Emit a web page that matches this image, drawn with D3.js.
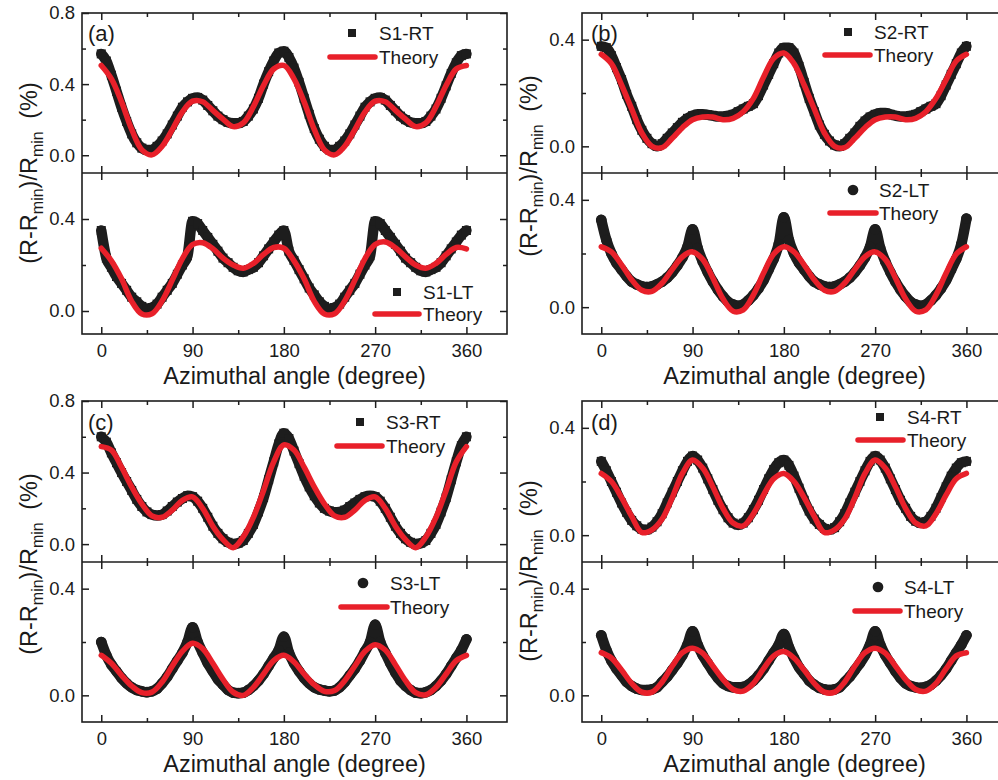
<!DOCTYPE html>
<html>
<head>
<meta charset="utf-8">
<script src="https://cdn.jsdelivr.net/npm/d3@7"></script>
<style>
  html, body { margin: 0; padding: 0; background: #fff; }
  svg { display: block; font-family: "Liberation Sans", Arial, Helvetica, sans-serif; }
</style>
</head>
<body>
<svg id="chart" width="998" height="780"></svg>
<script>
// ---------------- DATA ----------------
const angleTheory = [0,10,20,30,40,50,60,70,80,90,100,110,120,130,140,150,160,170,180,
  190,200,210,220,230,240,250,260,270,280,290,300,310,320,330,340,350,360];
const angleExp = [0,5,10,15,20,25,30,35,40,45,50,55,60,65,70,75,80,85,90,95,100,105,110,115,120,
  125,130,135,140,145,150,155,160,165,170,175,180,185,190,195,200,205,210,215,220,225,230,235,240,
  245,250,255,260,265,270,275,280,285,290,295,300,305,310,315,320,325,330,335,340,345,350,355,360];
const xTicksMajor = [0, 90, 180, 270, 360];
const xTicksMinor = [45, 135, 225, 315];

// Panel (a)
const s1RT = [0.57,0.53,0.45,0.36,0.27,0.19,0.12,0.07,0.04,0.03,0.03,0.05,0.08,0.12,0.17,0.22,0.27,0.30,0.32,0.325,
  0.31,0.28,0.25,0.22,0.20,0.185,0.18,0.18,0.19,0.22,0.26,0.32,0.40,0.47,0.53,0.575,0.585,
  0.55,0.49,0.41,0.32,0.23,0.15,0.09,0.05,0.03,0.03,0.05,0.08,0.12,0.17,0.22,0.27,0.30,0.32,0.325,
  0.31,0.28,0.25,0.22,0.20,0.185,0.18,0.18,0.19,0.22,0.26,0.32,0.39,0.46,0.52,0.56,0.57];
const s1RTTheory = [0.505,0.43,0.30,0.145,0.03,0.002,0.05,0.144,0.244,0.304,0.301,0.252,0.203,0.161,0.182,0.273,0.393,0.485,0.505,
  0.43,0.30,0.145,0.03,0.002,0.05,0.144,0.244,0.304,0.301,0.252,0.203,0.161,0.182,0.273,0.393,0.485,0.505];
const s1LT = [0.35,0.23,0.19,0.15,0.12,0.09,0.06,0.04,0.02,0.01,0.015,0.03,0.06,0.09,0.12,0.16,0.20,0.24,0.39,0.38,
  0.35,0.32,0.29,0.26,0.23,0.21,0.19,0.175,0.17,0.18,0.19,0.21,0.24,0.27,0.30,0.33,0.35,
  0.26,0.22,0.18,0.14,0.10,0.07,0.04,0.02,0.01,0.015,0.03,0.06,0.09,0.12,0.16,0.20,0.24,0.39,0.38,
  0.35,0.32,0.29,0.26,0.23,0.21,0.19,0.175,0.17,0.18,0.19,0.21,0.24,0.27,0.30,0.33,0.35];
const s1LTTheory = [0.273,0.218,0.14,0.042,-0.013,-0.012,0.044,0.134,0.228,0.289,0.297,0.271,0.23,0.20,0.186,0.207,0.246,0.276,0.273,
  0.218,0.14,0.042,-0.013,-0.012,0.044,0.134,0.228,0.289,0.30,0.275,0.235,0.20,0.186,0.207,0.246,0.276,0.27];

// Panel (b)
const s2RT = [0.375,0.37,0.34,0.295,0.25,0.195,0.15,0.10,0.06,0.03,0.01,0.0,0.01,0.03,0.05,0.07,0.09,0.105,0.115,0.12,
  0.12,0.118,0.115,0.112,0.112,0.115,0.12,0.13,0.14,0.15,0.16,0.19,0.23,0.27,0.31,0.35,0.37,
  0.37,0.35,0.30,0.24,0.18,0.13,0.08,0.045,0.02,0.005,0.0,0.01,0.03,0.05,0.075,0.095,0.11,0.12,0.125,
  0.125,0.12,0.115,0.112,0.112,0.115,0.12,0.13,0.14,0.15,0.16,0.19,0.23,0.27,0.31,0.35,0.375];
const s2RTTheory = [0.345,0.31,0.23,0.14,0.05,0.0,-0.005,0.03,0.07,0.10,0.11,0.11,0.10,0.105,0.13,0.18,0.26,0.33,0.35,
  0.31,0.23,0.14,0.05,0.0,-0.005,0.03,0.07,0.10,0.11,0.11,0.10,0.105,0.13,0.18,0.25,0.32,0.345];
const s2LT = [0.325,0.25,0.20,0.165,0.14,0.115,0.095,0.085,0.078,0.075,0.078,0.085,0.095,0.11,0.13,0.155,0.185,0.225,0.29,0.22,
  0.17,0.13,0.095,0.065,0.04,0.02,0.01,0.005,0.01,0.025,0.045,0.07,0.10,0.14,0.18,0.235,0.335,
  0.25,0.20,0.165,0.14,0.115,0.095,0.085,0.078,0.075,0.078,0.085,0.095,0.11,0.13,0.155,0.185,0.225,0.29,0.22,
  0.17,0.13,0.095,0.065,0.04,0.02,0.01,0.005,0.01,0.025,0.045,0.07,0.10,0.14,0.18,0.235,0.33];
const s2LTTheory = [0.225,0.206,0.158,0.102,0.063,0.059,0.09,0.141,0.188,0.206,0.178,0.109,0.031,-0.015,-0.01,0.046,0.127,0.198,0.225,
  0.206,0.158,0.102,0.063,0.059,0.09,0.141,0.188,0.206,0.178,0.109,0.031,-0.015,-0.01,0.046,0.127,0.198,0.225];

// Panel (c)
const s3RT = [0.60,0.57,0.51,0.455,0.40,0.35,0.30,0.25,0.21,0.18,0.165,0.16,0.165,0.185,0.21,0.235,0.255,0.27,0.265,0.24,
  0.20,0.15,0.10,0.06,0.03,0.01,0.0,0.005,0.02,0.06,0.11,0.18,0.26,0.36,0.46,0.56,0.62,
  0.59,0.52,0.45,0.38,0.32,0.27,0.23,0.20,0.185,0.178,0.18,0.19,0.21,0.23,0.25,0.265,0.27,0.265,0.24,
  0.20,0.15,0.10,0.06,0.03,0.01,0.0,0.005,0.02,0.06,0.11,0.18,0.26,0.36,0.46,0.55,0.60];
const s3RTTheory = [0.545,0.526,0.43,0.32,0.225,0.158,0.15,0.19,0.245,0.264,0.20,0.10,0.025,-0.02,0.04,0.15,0.30,0.46,0.555,
  0.526,0.43,0.32,0.225,0.158,0.15,0.19,0.245,0.264,0.20,0.10,0.025,-0.02,0.04,0.15,0.30,0.46,0.545];
const s3LT = [0.20,0.15,0.115,0.09,0.065,0.045,0.03,0.02,0.015,0.012,0.015,0.025,0.045,0.07,0.10,0.13,0.16,0.20,0.255,0.20,
  0.16,0.12,0.09,0.06,0.04,0.02,0.01,0.008,0.01,0.02,0.035,0.055,0.08,0.11,0.14,0.17,0.22,
  0.16,0.12,0.09,0.065,0.045,0.03,0.022,0.018,0.015,0.018,0.03,0.05,0.075,0.10,0.13,0.165,0.20,0.265,0.20,
  0.16,0.12,0.085,0.055,0.035,0.02,0.01,0.008,0.012,0.02,0.035,0.055,0.08,0.11,0.14,0.17,0.21];
const s3LTTheory = [0.15,0.12,0.075,0.035,0.01,0.012,0.05,0.11,0.165,0.195,0.175,0.12,0.06,0.012,0.0,0.03,0.08,0.13,0.15,
  0.125,0.08,0.04,0.015,0.018,0.055,0.11,0.165,0.19,0.17,0.115,0.055,0.01,0.002,0.03,0.08,0.13,0.15];

// Panel (d)
const s4RT = [0.275,0.24,0.20,0.16,0.12,0.085,0.055,0.035,0.022,0.02,0.03,0.05,0.08,0.12,0.16,0.20,0.24,0.275,0.295,0.28,
  0.25,0.21,0.17,0.13,0.095,0.065,0.045,0.038,0.045,0.065,0.095,0.13,0.17,0.21,0.245,0.27,0.28,
  0.26,0.22,0.175,0.13,0.09,0.06,0.04,0.025,0.02,0.028,0.05,0.08,0.12,0.16,0.20,0.24,0.275,0.295,0.28,
  0.25,0.21,0.17,0.13,0.10,0.07,0.052,0.045,0.05,0.07,0.10,0.14,0.18,0.22,0.25,0.27,0.275];
const s4RTTheory = [0.23,0.20,0.14,0.07,0.01,0.02,0.06,0.14,0.23,0.28,0.25,0.18,0.10,0.045,0.035,0.08,0.15,0.21,0.23,
  0.20,0.14,0.07,0.01,0.02,0.06,0.14,0.23,0.28,0.25,0.18,0.10,0.045,0.035,0.08,0.15,0.21,0.23];
const s4LT = [0.225,0.17,0.13,0.10,0.075,0.05,0.035,0.025,0.02,0.02,0.022,0.03,0.05,0.07,0.095,0.12,0.15,0.19,0.24,0.19,
  0.15,0.12,0.09,0.065,0.045,0.035,0.03,0.03,0.032,0.04,0.055,0.075,0.10,0.13,0.16,0.19,0.23,
  0.18,0.14,0.105,0.08,0.055,0.04,0.028,0.022,0.02,0.022,0.03,0.05,0.07,0.095,0.12,0.15,0.19,0.24,0.19,
  0.15,0.12,0.09,0.065,0.045,0.035,0.03,0.028,0.032,0.04,0.055,0.075,0.10,0.13,0.16,0.19,0.225];
const s4LTTheory = [0.16,0.14,0.095,0.045,0.012,0.012,0.05,0.11,0.16,0.177,0.158,0.11,0.06,0.022,0.016,0.045,0.10,0.148,0.164,
  0.14,0.095,0.045,0.012,0.012,0.05,0.11,0.16,0.177,0.158,0.11,0.06,0.022,0.016,0.045,0.10,0.148,0.16];

// ---------------- LAYOUT ----------------
const RED = "#e8202a", BLACK = "#1d1d1d", TXT = "#1a1a1a";
const xDomain = [-19, 400], panelW = 425;

const panels = [
  { label: "(a)", labelPos: [88, 41], left: 82, top: 13, mid: 173, bottom: 334, yTitleY: 173,
    subs: [
      { part: "upper", max: 0.8, ticks: [0, 0.4, 0.8], minor: [0.2, 0.6], exp: s1RT, th: s1RTTheory, name: "S1-RT", marker: "square",
        leg: { sym: [352, 33], line: [330, 375, 57], tx: 379 } },
      { part: "lower", max: 0.6, ticks: [0, 0.4], minor: [0.2], exp: s1LT, th: s1LTTheory, name: "S1-LT", marker: "square",
        leg: { sym: [397, 292], line: [375, 419, 314], tx: 423 } } ] },
  { label: "(b)", labelPos: [591, 41], left: 582, top: 13, mid: 173, bottom: 334, yTitleY: 166,
    subs: [
      { part: "upper", max: 0.5, ticks: [0, 0.4], minor: [0.2], exp: s2RT, th: s2RTTheory, name: "S2-RT", marker: "square",
        leg: { sym: [848, 32], line: [825, 870, 55], tx: 874 } },
      { part: "lower", max: 0.5, ticks: [0, 0.4], minor: [0.2], exp: s2LT, th: s2LTTheory, name: "S2-LT", marker: "circle",
        leg: { sym: [853, 190], line: [830, 876, 213], tx: 879 } } ] },
  { label: "(c)", labelPos: [88, 430], left: 82, top: 401, mid: 562, bottom: 722, yTitleY: 564,
    subs: [
      { part: "upper", max: 0.8, ticks: [0, 0.4, 0.8], minor: [0.2, 0.6], exp: s3RT, th: s3RTTheory, name: "S3-RT", marker: "square",
        leg: { sym: [360, 422], line: [337, 382, 446], tx: 386 } },
      { part: "lower", max: 0.5, ticks: [0, 0.4], minor: [0.2], exp: s3LT, th: s3LTTheory, name: "S3-LT", marker: "circle",
        leg: { sym: [363, 583], line: [341, 387, 607], tx: 390 } } ] },
  { label: "(d)", labelPos: [591, 430], left: 582, top: 401, mid: 562, bottom: 722, yTitleY: 571,
    subs: [
      { part: "upper", max: 0.5, ticks: [0, 0.4], minor: [0.2], exp: s4RT, th: s4RTTheory, name: "S4-RT", marker: "square",
        leg: { sym: [880, 417], line: [858, 903, 440], tx: 907 } },
      { part: "lower", max: 0.5, ticks: [0, 0.4], minor: [0.2], exp: s4LT, th: s4LTTheory, name: "S4-LT", marker: "circle",
        leg: { sym: [878, 587], line: [855, 900, 611], tx: 904 } } ] }
];

// ---------------- DRAW ----------------
const svg = d3.select("#chart");
const fmt = d3.format(".1f");

panels.forEach(p => {
  const g = svg.append("g");
  const x = d3.scaleLinear().domain(xDomain).range([p.left, p.left + panelW]);

  p.subs.forEach(s => {
    const y0 = s.part === "upper" ? p.top : p.mid;
    const y1 = s.part === "upper" ? p.mid : p.bottom;
    const y = d3.scaleLinear().domain([-0.1, s.max]).range([y1, y0]);

    // experimental band
    const expPts = angleExp.map((a, i) => [a, s.exp[i]]);
    const line = d3.line().x(d => x(d[0])).y(d => y(d[1])).curve(d3.curveMonotoneX);
    g.append("path").attr("d", line(expPts)).attr("fill", "none")
      .attr("stroke", BLACK).attr("stroke-width", 10.5).attr("stroke-linejoin", "round").attr("stroke-linecap", "round");
    const sym = d3.symbol().type(s.marker === "square" ? d3.symbolSquare : d3.symbolCircle)
      .size(s.marker === "square" ? 81 : 90);
    g.append("g").selectAll("path").data(expPts).join("path")
      .attr("transform", d => `translate(${x(d[0])},${y(d[1])})`)
      .attr("d", sym).attr("fill", BLACK);

    // theory
    const thPts = angleTheory.map((a, i) => [a, s.th[i]]);
    const tline = d3.line().x(d => x(d[0])).y(d => y(d[1])).curve(d3.curveCatmullRom.alpha(0.5));
    g.append("path").attr("d", tline(thPts)).attr("fill", "none")
      .attr("stroke", RED).attr("stroke-width", 5.5).attr("stroke-linecap", "round").attr("stroke-linejoin", "round");

    // axes (ticks inward on all sides)
    g.append("g").attr("transform", `translate(0,${y1})`)
      .call(d3.axisBottom(x).tickValues(xTicksMajor).tickSizeInner(-7).tickSizeOuter(0).tickPadding(10)
        .tickFormat(s.part === "lower" ? d3.format("d") : () => ""));
    g.append("g").attr("transform", `translate(0,${y1})`)
      .call(d3.axisBottom(x).tickValues(xTicksMinor).tickSizeInner(-4).tickSizeOuter(0).tickFormat(() => ""));
    g.append("g").attr("transform", `translate(0,${y0})`)
      .call(d3.axisTop(x).tickValues(xTicksMajor).tickSizeInner(-7).tickSizeOuter(0).tickFormat(() => ""));
    g.append("g").attr("transform", `translate(0,${y0})`)
      .call(d3.axisTop(x).tickValues(xTicksMinor).tickSizeInner(-4).tickSizeOuter(0).tickFormat(() => ""));
    g.append("g").attr("transform", `translate(${p.left},0)`)
      .call(d3.axisLeft(y).tickValues(s.ticks).tickSizeInner(-7).tickSizeOuter(0).tickPadding(7).tickFormat(fmt));
    g.append("g").attr("transform", `translate(${p.left},0)`)
      .call(d3.axisLeft(y).tickValues(s.minor).tickSizeInner(-4).tickSizeOuter(0).tickFormat(() => ""));
    g.append("g").attr("transform", `translate(${p.left + panelW},0)`)
      .call(d3.axisRight(y).tickValues(s.ticks).tickSizeInner(-7).tickSizeOuter(0).tickFormat(() => ""));
    g.append("g").attr("transform", `translate(${p.left + panelW},0)`)
      .call(d3.axisRight(y).tickValues(s.minor).tickSizeInner(-4).tickSizeOuter(0).tickFormat(() => ""));

    // legend
    const L = s.leg;
    g.append("path").attr("transform", `translate(${L.sym[0]},${L.sym[1]})`)
      .attr("d", d3.symbol().type(s.marker === "square" ? d3.symbolSquare : d3.symbolCircle).size(s.marker === "square" ? 64 : 90)())
      .attr("fill", BLACK);
    g.append("text").attr("x", L.tx).attr("y", L.sym[1] + 7).attr("font-size", 19).attr("fill", TXT).text(s.name);
    g.append("line").attr("x1", L.line[0]).attr("x2", L.line[1]).attr("y1", L.line[2]).attr("y2", L.line[2])
      .attr("stroke", RED).attr("stroke-width", 5.5).attr("stroke-linecap", "round");
    g.append("text").attr("x", L.tx).attr("y", L.line[2] + 7).attr("font-size", 19).attr("fill", TXT).text("Theory");
  });

  // frame
  g.append("rect").attr("x", p.left).attr("y", p.top).attr("width", panelW).attr("height", p.bottom - p.top)
    .attr("fill", "none").attr("stroke", BLACK).attr("stroke-width", 1.6);
  g.append("line").attr("x1", p.left).attr("x2", p.left + panelW).attr("y1", p.mid).attr("y2", p.mid)
    .attr("stroke", BLACK).attr("stroke-width", 1.6);

  // panel label
  g.append("text").attr("x", p.labelPos[0]).attr("y", p.labelPos[1]).attr("font-size", 22).attr("fill", TXT).text(p.label);

  // x title
  g.append("text").attr("x", p.left + panelW / 2).attr("y", p.bottom + 50).attr("text-anchor", "middle")
    .attr("font-size", 23.5).attr("fill", TXT).text("Azimuthal angle (degree)");

  // y title
  const yt = g.append("text").attr("transform", `translate(${p.left - 45},${p.yTitleY}) rotate(-90)`)
    .attr("text-anchor", "middle").attr("font-size", 23.5).attr("fill", TXT);
  yt.append("tspan").text("(R-R");
  yt.append("tspan").attr("font-size", 16).attr("dy", 6).text("min");
  yt.append("tspan").attr("dy", -6).text(")/R");
  yt.append("tspan").attr("font-size", 16).attr("dy", 6).text("min");
  yt.append("tspan").attr("dy", -6).attr("dx", 6).text(" (%)");
});

// axis styling
svg.selectAll(".domain").remove();
svg.selectAll(".tick line").attr("stroke", BLACK).attr("stroke-width", 1.5);
svg.selectAll(".tick text").attr("font-size", 18.5).attr("fill", TXT).attr("font-family", '"Liberation Sans", Arial, sans-serif');
</script>
</body>
</html>
